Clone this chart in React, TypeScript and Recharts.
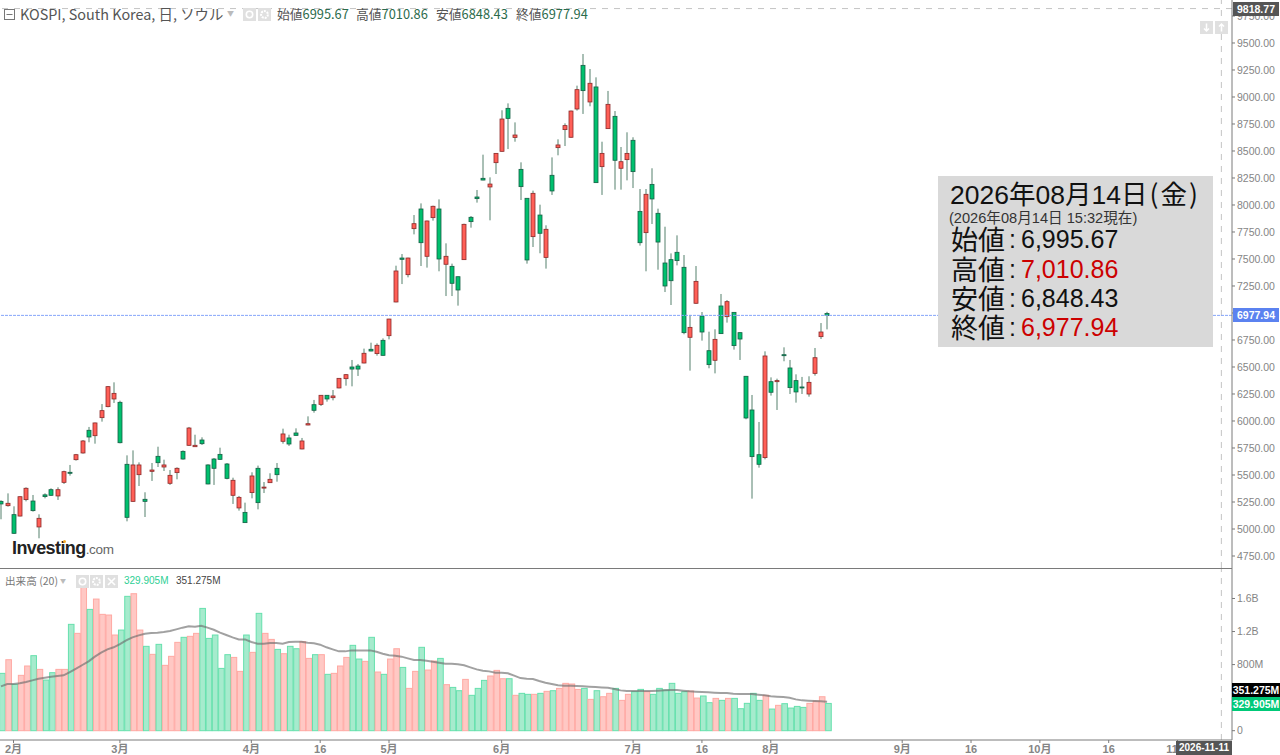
import {
  Bar,
  ComposedChart,
  Line,
  ReferenceLine,
  XAxis,
  YAxis,
} from "recharts";

// ── Daily KOSPI values ───────────────────────────────────────
const OPENS = [
  5256, 5216, 5133, 5120, 5272, 5259, 5019, 5316, 5364, 5306,
  5432, 5525, 5642, 5704, 5914, 5864, 6031, 6133, 6204, 6173,
  5599, 5256, 5503, 5275, 5534, 5673, 5574, 5423, 5522, 5719,
  5775, 5762, 5824, 5593, 5648, 5691, 5602, 5312, 5195, 5154,
  5337, 5562, 5381, 5429, 5562, 5812, 5843, 5889, 5741, 5963,
  6151, 6154, 6238, 6216, 6306, 6392, 6500, 6509, 6537, 6664,
  6624, 6747, 6790, 7102, 7509, 7355, 7781, 7963, 7525, 7883,
  7963, 7451, 7432, 7336, 7494, 7886, 8074, 8247, 8167, 8392,
  8497, 8895, 8626, 8330, 8062, 7707, 7907, 7515, 8275, 8531,
  8698, 8627, 8889, 9293, 8954, 9093, 8355, 8707, 8821, 8340,
  8420, 8599, 7941, 7744, 8191, 7923, 7463, 7494, 7562, 7423,
  6775, 7090, 6972, 6651, 6562, 7065, 6966, 7006, 6818, 6414,
  6102, 5688, 5661, 6364, 6364, 6614, 6491, 6374, 6315, 6250,
  6441, 6781, 6995.67,
];
const HIGHS = [
  5266, 5330, 5210, 5302, 5386, 5315, 5136, 5330, 5377, 5386,
  5540, 5593, 5695, 5824, 5945, 5985, 6157, 6324, 6358, 6188,
  5682, 5728, 5617, 5340, 5611, 5762, 5642, 5546, 5571, 5728,
  5945, 5873, 5849, 5599, 5657, 5753, 5611, 5475, 5306, 5244,
  5525, 5587, 5435, 5516, 5611, 5929, 5873, 5932, 5843, 6043,
  6195, 6240, 6240, 6287, 6397, 6435, 6565, 6528, 6670, 6725,
  6719, 6765, 6946, 7438, 7546, 7512, 7907, 8015, 7855, 7994,
  8052, 7645, 7457, 7338, 7827, 7898, 8139, 8466, 8256, 8481,
  8877, 8941, 8765, 8395, 8064, 8133, 8003, 7812, 8441, 8608,
  8756, 8874, 9105, 9398, 9259, 9182, 8586, 9056, 8870, 8537,
  8673, 8627, 8148, 8148, 8340, 7966, 7799, 7552, 7719, 7537,
  6982, 7435, 7009, 6827, 6849, 7176, 7120, 7008, 6821, 6417,
  6241, 5991, 6645, 6404, 6392, 6682, 6565, 6432, 6408, 6414,
  6676, 6907, 7010.86,
];
const LOWS = [
  5090, 5207, 4954, 5117, 5256, 5161, 4914, 5284, 5306, 5269,
  5417, 5494, 5633, 5698, 5803, 5790, 5994, 6127, 6167, 5793,
  5071, 5253, 5398, 5111, 5445, 5574, 5537, 5408, 5460, 5642,
  5769, 5759, 5778, 5414, 5408, 5639, 5460, 5232, 5170, 5056,
  5284, 5182, 5333, 5427, 5438, 5790, 5769, 5865, 5738, 5960,
  6077, 6139, 6179, 6191, 6303, 6327, 6321, 6417, 6534, 6645,
  6605, 6605, 6756, 7099, 7268, 7330, 7728, 7435, 7420, 7855,
  7386, 7157, 7157, 7068, 7491, 7790, 8022, 8229, 7858, 8287,
  8494, 8518, 8586, 8046, 7457, 7611, 7553, 7411, 8093, 8460,
  8546, 8623, 8874, 8843, 8914, 8205, 8093, 8705, 8142, 8142,
  8228, 8157, 7624, 7386, 7824, 7401, 7194, 7074, 7441, 6803,
  6466, 7085, 6744, 6488, 6441, 6807, 6911, 6661, 6565, 6016,
  5281, 5568, 5645, 6235, 6102, 6553, 6250, 6170, 6250, 6225,
  6420, 6759, 6848.43,
];
const CLOSES = [
  5232, 5238, 4960, 5299, 5377, 5170, 5099, 5300, 5312, 5364,
  5531, 5516, 5688, 5815, 5852, 5982, 6096, 6318, 6256, 5799,
  5108, 5593, 5593, 5256, 5546, 5614, 5593, 5497, 5562, 5648,
  5935, 5775, 5790, 5417, 5562, 5645, 5469, 5451, 5293, 5059,
  5491, 5244, 5388, 5460, 5503, 5880, 5787, 5867, 5815, 5975,
  6099, 6238, 6204, 6232, 6395, 6429, 6481, 6481, 6627, 6648,
  6701, 6608, 6944, 7389, 7497, 7509, 7827, 7651, 7852, 7988,
  7500, 7525, 7275, 7213, 7821, 7846, 8059, 8231, 8194, 8478,
  8796, 8802, 8648, 8170, 7491, 8108, 7738, 7775, 8130, 8556,
  8735, 8870, 9068, 9059, 9127, 8207, 8478, 8932, 8414, 8401,
  8478, 8309, 7651, 8099, 8056, 7657, 7250, 7299, 7485, 6818,
  6867, 7293, 6824, 6522, 6756, 6809, 7105, 6698, 6759, 6028,
  5670, 5599, 6602, 6266, 6374, 6605, 6309, 6269, 6306, 6358,
  6586, 6824, 6977.94,
];

// volume and its 20 day average, in millions
const VOLUMES = [
  694, 859, 561, 670, 783, 908, 742, 613, 702, 742,
  742, 1287, 1178, 1743, 1468, 1593, 1408, 1400, 1158, 1218,
  1626, 1658, 1218, 1021, 924, 1045, 791, 900, 1069, 1130,
  1142, 1178, 1480, 1117, 1158, 754, 920, 887, 718, 1158,
  948, 1420, 1178, 1105, 984, 932, 1021, 992, 1077, 875,
  920, 920, 682, 694, 783, 887, 1033, 867, 839, 1130,
  710, 682, 867, 992, 766, 512, 718, 1009, 734, 843,
  875, 557, 524, 484, 621, 428, 512, 609, 662, 730,
  629, 629, 428, 452, 440, 440, 452, 476, 484, 512,
  573, 565, 500, 512, 379, 484, 411, 452, 512, 367,
  440, 472, 500, 472, 440, 512, 492, 573, 452, 472,
  480, 395, 420, 339, 391, 367, 391, 391, 266, 331,
  452, 367, 428, 262, 307, 327, 274, 294, 282, 331,
  359, 411, 329.905,
];
const VOLUME_MA = [
  537, 565, 565, 573, 589, 609, 629, 641, 654, 662,
  670, 710, 750, 795, 839, 896, 944, 984, 1009, 1049,
  1093, 1130, 1154, 1174, 1182, 1186, 1194, 1206, 1226, 1247,
  1263, 1259, 1271, 1247, 1222, 1186, 1158, 1130, 1105, 1105,
  1073, 1053, 1053, 1061, 1061, 1053, 1073, 1077, 1077, 1065,
  1057, 1041, 1009, 984, 960, 960, 972, 972, 972, 972,
  956, 932, 912, 908, 896, 875, 855, 855, 847, 835,
  823, 811, 811, 803, 791, 766, 742, 726, 718, 702,
  702, 694, 666, 637, 629, 625, 601, 581, 565, 549,
  545, 545, 541, 537, 532, 528, 524, 520, 504, 488,
  480, 480, 480, 480, 480, 484, 488, 492, 492, 484,
  476, 472, 468, 464, 460, 456, 456, 448, 444, 444,
  444, 436, 428, 416, 411, 407, 399, 379, 367, 363,
  359, 355, 351.275,
];

const PRICE_TICKS = [
  4750, 5000, 5250, 5500, 5750, 6000, 6250, 6500, 6750, 7000, 7250,
  7500, 7750, 8000, 8250, 8500, 8750, 9000, 9250, 9500, 9750,
];
const VOLUME_TICKS = [0, 800, 1200, 1600];
const DATE_TICKS = [2, 19, 40, 51, 62, 80, 101, 112, 123, 144, 155, 166, 177, 188];
const DATE_LABELS = [
  "2月", "3月", "4月", "16", "5月", "6月", "7月", "16", "8月", "9月", "16", "10月", "16", "11月",
];

const LAST_CLOSE = 6977.94;
const CURSOR_PRICE = 9818.77;
const CURSOR_INDEX = 195;

// ── Colours and layout ───────────────────────────────────────
const COLORS = {
  upBody: "#ff5f57",
  upEdge: "#8c2a2a",
  downBody: "#00c06e",
  downEdge: "#145f45",
  wick: "#55806c",
  upVol: "#ffc8c4",
  upVolEdge: "#ffa9a3",
  downVol: "#a6ebcd",
  downVolEdge: "#66e0ad",
  axis: "#7a7a7a",
  tick: "#858585",
  cursor: "#c4c4c4",
  last: "#5b82f0",
  lastLine: "#86a6fa",
};
const FONT = '"Liberation Sans", Arial, sans-serif';
const CJK = '"Noto Sans CJK JP", sans-serif';
const X_DOMAIN: [number, number] = [-0.16, 196.7];
const CHART_W = 1280;
const AXIS_W = 48;

const priceRows = OPENS.map((open, idx) => ({
  idx,
  open,
  high: HIGHS[idx],
  low: LOWS[idx],
  close: CLOSES[idx],
}));
const volumeRows = VOLUMES.map((volume, idx) => ({
  idx,
  volume,
  ma: VOLUME_MA[idx],
  up: CLOSES[idx] >= OPENS[idx],
}));

// ── Marks ────────────────────────────────────────────────────

// eslint-disable-next-line @typescript-eslint/no-explicit-any
function Candle(props: any) {
  const { x, y, width, height, payload } = props;
  const { open, high, low, close } = payload;
  const perUnit = height / (high - low);
  const yOf = (v: number) => y + (high - v) * perUnit;
  const up = close >= open;
  const cx = Math.round(x + width / 2);
  const top = yOf(Math.max(open, close));
  const bottom = yOf(Math.min(open, close));
  return (
    <g>
      <line x1={cx} x2={cx} y1={y} y2={y + height} stroke={COLORS.wick} strokeWidth={1} />
      <rect
        x={cx - 2}
        y={top}
        width={4}
        height={Math.max(bottom - top, 1)}
        fill={up ? COLORS.upBody : COLORS.downBody}
        stroke={up ? COLORS.upEdge : COLORS.downEdge}
        strokeWidth={0.8}
      />
    </g>
  );
}

// eslint-disable-next-line @typescript-eslint/no-explicit-any
function VolumeBar(props: any) {
  const { x, y, width, height, payload } = props;
  return (
    <rect
      x={x + 1.7}
      y={y}
      width={width}
      height={height}
      fill={payload.up ? COLORS.upVol : COLORS.downVol}
      stroke={payload.up ? COLORS.upVolEdge : COLORS.downVolEdge}
      strokeWidth={1}
    />
  );
}

// ── Overlay bits ─────────────────────────────────────────────

function Txt({
  x,
  y,
  size = 13,
  color = "#555",
  family = CJK,
  weight = 400,
  children,
}: {
  x: number;
  y: number;
  size?: number;
  color?: string;
  family?: string;
  weight?: number;
  children: React.ReactNode;
}) {
  return (
    <div
      style={{
        position: "absolute",
        left: x,
        top: y,
        fontSize: size,
        lineHeight: "16px",
        color,
        fontFamily: family,
        fontWeight: weight,
        whiteSpace: "nowrap",
      }}
    >
      {children}
    </div>
  );
}

function PriceTag({ y, bg, w = 48, left = 1232, size = 10.5, children }: { y: number; bg: string; w?: number; left?: number; size?: number; children: React.ReactNode }) {
  return (
    <div
      style={{
        position: "absolute",
        left,
        top: y,
        width: w,
        height: 14,
        background: bg,
        color: "#fff",
        fontFamily: FONT,
        fontSize: size,
        fontWeight: 700,
        lineHeight: "14px",
        textAlign: "center",
        whiteSpace: "nowrap",
        overflow: "hidden",
      }}
    >
      {children}
    </div>
  );
}

function IconBox({ x, y, kind }: { x: number; y: number; kind: "eye" | "gear" | "close" | "up" | "down" }) {
  return (
    <svg style={{ position: "absolute", left: x, top: y }} width={13} height={13}>
      <rect width={13} height={13} fill="#e0e0e0" />
      {kind === "eye" && <circle cx={6.5} cy={6.5} r={3.2} fill="none" stroke="#fff" strokeWidth={1.6} />}
      {kind === "gear" && <circle cx={6.5} cy={6.5} r={3.4} fill="none" stroke="#fff" strokeWidth={2} strokeDasharray="2 1" />}
      {kind === "close" && <path d="M3 3 L10 10 M10 3 L3 10" stroke="#fff" strokeWidth={1.6} />}
      {kind === "up" && <path d="M6.5 10.5 V3 M4 5.5 L6.5 3 L9 5.5" fill="none" stroke="#fff" strokeWidth={1.5} />}
      {kind === "down" && <path d="M6.5 2.5 V10 M4 7.5 L6.5 10 L9 7.5" fill="none" stroke="#fff" strokeWidth={1.5} />}
    </svg>
  );
}

function InfoRow({ y, label, value, color }: { y: number; label: string; value: string; color: string }) {
  return (
    <>
      <div style={{ position: "absolute", left: 951, top: y, lineHeight: "30px", fontFamily: CJK, fontSize: 27, color: "#111", whiteSpace: "nowrap" }}>{label}</div>
      <div style={{ position: "absolute", left: 1009, top: y, lineHeight: "30px", fontFamily: FONT, fontSize: 25, color: "#111" }}>:</div>
      <div style={{ position: "absolute", left: 1021, top: y, lineHeight: "30px", fontFamily: FONT, fontSize: 25, color, whiteSpace: "nowrap" }}>{value}</div>
    </>
  );
}

function InfoPanel() {
  return (
    <>
      <div style={{ position: "absolute", left: 938, top: 176, width: 275, height: 171, background: "#d9d9d9" }} />
      <div style={{ position: "absolute", left: 950, top: 177, height: 32, lineHeight: "32px", fontFamily: FONT, fontSize: 26.5, color: "#111", whiteSpace: "nowrap" }}>
        2026<span style={{ fontFamily: CJK }}>年</span>08<span style={{ fontFamily: CJK }}>月</span>14<span style={{ fontFamily: CJK }}>日</span>
        <span style={{ fontFamily: CJK, letterSpacing: 2, marginLeft: 2 }}>(金)</span>
      </div>
      <div style={{ position: "absolute", left: 949, top: 208, height: 17, lineHeight: "17px", fontFamily: FONT, fontSize: 14.6, color: "#333", whiteSpace: "nowrap" }}>
        (2026<span style={{ fontFamily: CJK }}>年</span>08<span style={{ fontFamily: CJK }}>月</span>14<span style={{ fontFamily: CJK }}>日</span> 15:32<span style={{ fontFamily: CJK }}>現在</span>)
      </div>
      <InfoRow y={224} label="始値" value="6,995.67" color="#111" />
      <InfoRow y={254} label="高値" value="7,010.86" color="#cc0000" />
      <InfoRow y={283} label="安値" value="6,848.43" color="#111" />
      <InfoRow y={312} label="終値" value="6,977.94" color="#cc0000" />
    </>
  );
}

// ── Main component ───────────────────────────────────────────

export default function App() {
  return (
    <div style={{ position: "absolute", left: 0, top: 0, width: 1280, height: 755, overflow: "hidden", background: "#fff" }}>
      {/* Price pane */}
      <div style={{ position: "absolute", left: 0, top: 0 }}>
        <ComposedChart
          width={CHART_W}
          height={568}
          data={priceRows}
          margin={{ top: 0, right: 0, bottom: 0, left: 0 }}
        >
          <XAxis dataKey="idx" type="number" domain={X_DOMAIN} allowDataOverflow hide />
          <YAxis
            orientation="right"
            width={AXIS_W}
            domain={[4638.9, 9898.1]}
            allowDataOverflow
            ticks={PRICE_TICKS}
            interval={0}
            tickFormatter={(v: number) => v.toFixed(2)}
            tick={{ fill: COLORS.tick, fontSize: 10.5, fontFamily: FONT }}
            tickSize={3}
            tickMargin={2}
            tickLine={{ stroke: COLORS.axis }}
            axisLine={{ stroke: COLORS.axis }}
          />
          <ReferenceLine y={CURSOR_PRICE} stroke={COLORS.cursor} strokeDasharray="6 6" />
          <ReferenceLine x={CURSOR_INDEX} stroke={COLORS.cursor} strokeDasharray="6 6" />
          <ReferenceLine y={LAST_CLOSE} stroke={COLORS.lastLine} strokeDasharray="3 1" />
          <Bar
            dataKey={(d: { low: number; high: number }) => [d.low, d.high]}
            barSize={5}
            shape={Candle}
            isAnimationActive={false}
          />
        </ComposedChart>
      </div>

      {/* Volume pane */}
      <div style={{ position: "absolute", left: 0, top: 568 }}>
        <ComposedChart
          width={CHART_W}
          height={187}
          data={volumeRows}
          margin={{ top: 0, right: 0, bottom: 0, left: 0 }}
        >
          <XAxis
            dataKey="idx"
            type="number"
            domain={X_DOMAIN}
            allowDataOverflow
            ticks={DATE_TICKS}
            interval={0}
            height={15}
            tickFormatter={(v: number) => DATE_LABELS[DATE_TICKS.indexOf(v)]}
            tick={{ fill: COLORS.tick, fontSize: 11, fontWeight: 700, fontFamily: `${FONT}, ${CJK}` }}
            tickSize={3}
            tickMargin={2}
            tickLine={{ stroke: COLORS.axis }}
            axisLine={{ stroke: COLORS.axis }}
          />
          <YAxis
            orientation="right"
            width={AXIS_W}
            domain={[-112.6, 1969]}
            allowDataOverflow
            ticks={VOLUME_TICKS}
            interval={0}
            tickFormatter={(v: number) => (v >= 1000 ? `${(v / 1000).toFixed(1)}B` : v === 0 ? "0" : `${v}M`)}
            tick={{ fill: COLORS.tick, fontSize: 10.5, fontFamily: FONT }}
            tickSize={3}
            tickMargin={2}
            tickLine={{ stroke: COLORS.axis }}
            axisLine={{ stroke: COLORS.axis }}
          />
          <ReferenceLine x={CURSOR_INDEX} stroke={COLORS.cursor} strokeDasharray="6 6" />
          <Bar dataKey="volume" barSize={5.6} shape={VolumeBar} isAnimationActive={false} />
          <Line
            dataKey="ma"
            stroke="#6f6f6f"
            strokeOpacity={0.65}
            strokeWidth={2}
            dot={false}
            activeDot={false}
            isAnimationActive={false}
          />
        </ComposedChart>
      </div>

      {/* Pane divider */}
      <div style={{ position: "absolute", left: 0, top: 568, width: 1232, height: 1, background: COLORS.axis }} />

      {/* Header */}
      <svg style={{ position: "absolute", left: 4, top: 9 }} width={11} height={11}>
        <rect x={0.5} y={0.5} width={10} height={10} fill="none" stroke="#777" />
        <path d="M2.5 5.5 H8.5" stroke="#777" />
      </svg>
      <Txt x={20} y={6} size={14.4}>KOSPI, South Korea, 日, ソウル</Txt>
      <Txt x={227} y={5} size={7} color="#bbb">▼</Txt>
      <IconBox x={243} y={8} kind="eye" />
      <IconBox x={258} y={8} kind="gear" />
      <Txt x={277} y={6} size={12.8}>始値<span style={{ color: "#2b6b4c" }}>6995.67</span></Txt>
      <Txt x={356} y={6} size={12.8}>高値<span style={{ color: "#2b6b4c" }}>7010.86</span></Txt>
      <Txt x={436} y={6} size={12.8}>安値<span style={{ color: "#2b6b4c" }}>6848.43</span></Txt>
      <Txt x={516} y={6} size={12.8}>終値<span style={{ color: "#2b6b4c" }}>6977.94</span></Txt>
      <IconBox x={1200} y={21} kind="down" />
      <IconBox x={1215} y={21} kind="up" />

      {/* Logo */}
      <div style={{ position: "absolute", left: 12, top: 537, fontFamily: FONT, fontWeight: 700, fontSize: 18, lineHeight: "22px", letterSpacing: -0.6, color: "#222", whiteSpace: "nowrap" }}>
        Investing<span style={{ fontWeight: 400, fontSize: 13.5, letterSpacing: -0.3, color: "#666" }}>.com</span>
      </div>
      <div style={{ position: "absolute", left: 62.5, top: 540, width: 3, height: 3, borderRadius: 2, background: "#f5a623" }} />

      {/* Volume legend */}
      <Txt x={5} y={573} size={10.6} color="#777">出来高 (20)</Txt>
      <Txt x={60} y={573} size={6} color="#bbb">▼</Txt>
      <IconBox x={76} y={575} kind="eye" />
      <IconBox x={90} y={575} kind="gear" />
      <IconBox x={105} y={575} kind="close" />
      <Txt x={124} y={573} size={10} family={FONT} color="#2ecf94">329.905M</Txt>
      <Txt x={176} y={573} size={10} family={FONT} color="#444">351.275M</Txt>

      {/* Axis tags */}
      <PriceTag y={2} bg="#555" w={46} left={1233}>9818.77</PriceTag>
      <PriceTag y={308} bg={COLORS.last} w={46} left={1233}>6977.94</PriceTag>
      <PriceTag y={683} bg="#000">351.275M</PriceTag>
      <PriceTag y={697} bg="#00c978">329.905M</PriceTag>
      <PriceTag y={741} bg="#555" w={56} left={1176} size={10}>2026-11-11</PriceTag>

      <InfoPanel />
    </div>
  );
}
